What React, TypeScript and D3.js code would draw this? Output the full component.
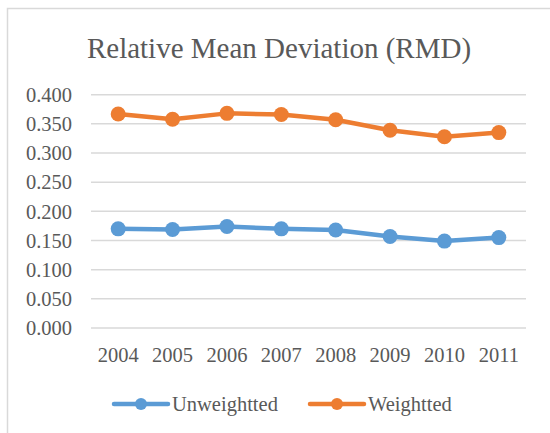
import React from 'react';
import * as d3 from 'd3';

const years = ['2004', '2005', '2006', '2007', '2008', '2009', '2010', '2011'];
const unweighted = [0.17, 0.169, 0.174, 0.17, 0.168, 0.157, 0.149, 0.155];
const weighted = [0.367, 0.358, 0.368, 0.366, 0.357, 0.339, 0.328, 0.335];
const yTicks = [0, 0.05, 0.1, 0.15, 0.2, 0.25, 0.3, 0.35, 0.4];

const W = 550;
const H = 433;
const font = '"Liberation Serif", "Times New Roman", serif';
const textColor = '#595959';

const App = () => {
  const x = d3.scaleBand().domain(years).range([91, 526]);
  const y = d3.scaleLinear().domain([0, 0.4]).range([328, 94.7]);
  const cx = (d: string) => (x(d) as number) + x.bandwidth() / 2;

  const line = d3
    .line<number>()
    .x((_, i) => cx(years[i]))
    .y((d) => y(d));

  const series = [
    { name: 'Unweightted', values: unweighted, color: '#5B9BD5', lx: 114 },
    { name: 'Weightted', values: weighted, color: '#ED7D31', lx: 310 },
  ];

  return (
    <svg
      width={W}
      height={H}
      style={{ position: 'absolute', left: 0, top: 0, background: '#fff' }}
    >
      <rect x={7.5} y={8.5} width={600} height={500} fill="#fff" stroke="#D9D9D9" strokeWidth={1.5} />
      <text x={279} y={58} textAnchor="middle" fontFamily={font} fontSize={29} fill={textColor}>
        Relative Mean Deviation (RMD)
      </text>

      {yTicks.map((t) => (
        <g key={t}>
          <line x1={91} x2={526} y1={y(t)} y2={y(t)} stroke="#D9D9D9" strokeWidth={1.5} />
          <text
            x={72}
            y={y(t)}
            dy="0.35em"
            textAnchor="end"
            fontFamily={font}
            fontSize={20.5}
            fill={textColor}
          >
            {t.toFixed(3)}
          </text>
        </g>
      ))}

      {years.map((yr) => (
        <text key={yr} x={cx(yr)} y={362} textAnchor="middle" fontFamily={font} fontSize={20.5} fill={textColor}>
          {yr}
        </text>
      ))}

      {series.map((s) => (
        <g key={s.name}>
          <path d={line(s.values) || ''} fill="none" stroke={s.color} strokeWidth={4.5} strokeLinejoin="round" />
          {s.values.map((v, i) => (
            <circle key={i} cx={cx(years[i])} cy={y(v)} r={7.5} fill={s.color} />
          ))}
        </g>
      ))}

      {series.map((s) => (
        <g key={s.name + '-legend'}>
          <line x1={s.lx} x2={s.lx + 54} y1={404} y2={404} stroke={s.color} strokeWidth={4.5} strokeLinecap="round" />
          <circle cx={s.lx + 27} cy={404} r={6} fill={s.color} />
          <text x={s.lx + 58} y={404} dy="0.35em" fontFamily={font} fontSize={20.5} fill={textColor}>
            {s.name}
          </text>
        </g>
      ))}
    </svg>
  );
};

export default App;
